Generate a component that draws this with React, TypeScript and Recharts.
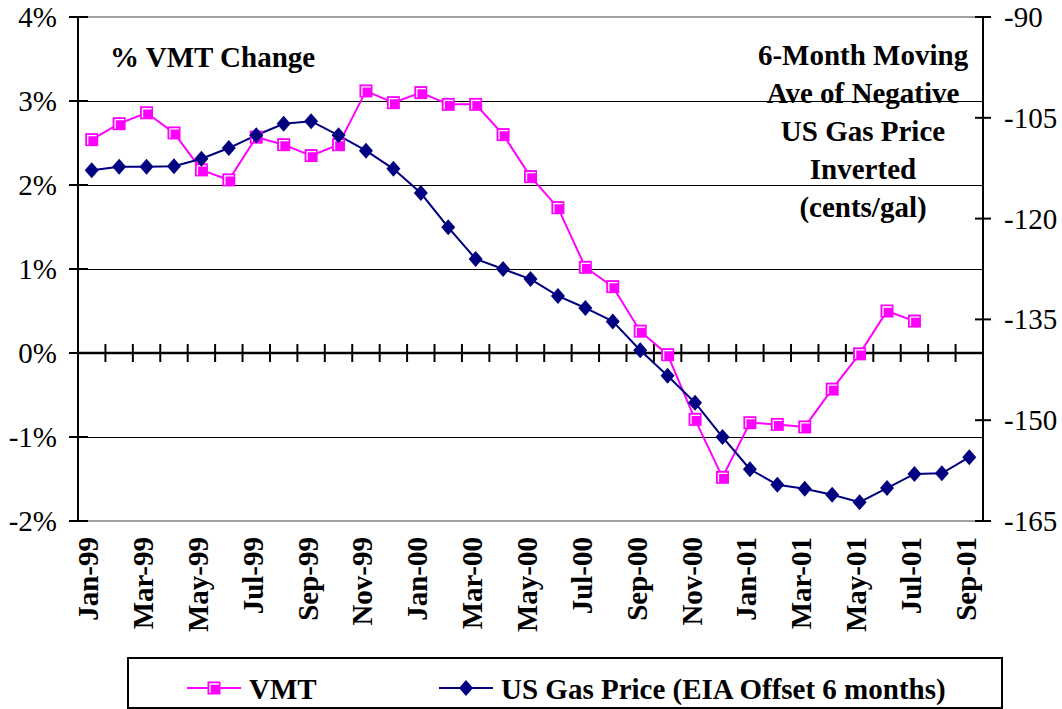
import { ComposedChart, Line, XAxis, YAxis, ReferenceLine, Legend } from "recharts";

const months = [
  "Jan-99", "Feb-99", "Mar-99", "Apr-99", "May-99", "Jun-99", "Jul-99", "Aug-99", "Sep-99", "Oct-99", "Nov-99", "Dec-99",
  "Jan-00", "Feb-00", "Mar-00", "Apr-00", "May-00", "Jun-00", "Jul-00", "Aug-00", "Sep-00", "Oct-00", "Nov-00", "Dec-00",
  "Jan-01", "Feb-01", "Mar-01", "Apr-01", "May-01", "Jun-01", "Jul-01", "Aug-01", "Sep-01",
];

// % VMT change (left axis)
const vmtChange: (number | null)[] = [
  2.54, 2.73, 2.86, 2.62, 2.18, 2.06, 2.57, 2.48, 2.35, 2.48, 3.12, 2.98,
  3.10, 2.96, 2.96, 2.60, 2.10, 1.73, 1.02, 0.79, 0.26, -0.02, -0.79, -1.48,
  -0.83, -0.85, -0.88, -0.43, -0.01, 0.50, 0.38, null, null,
];

// 6-month moving ave of negative gas price, cents/gal (right axis)
const gasPrice = [
  -112.8, -112.3, -112.3, -112.2, -111.1, -109.5, -107.6, -105.9, -105.5, -107.6, -109.9, -112.6,
  -116.2, -121.3, -126.0, -127.5, -129.0, -131.5, -133.3, -135.3, -139.6, -143.4, -147.4, -152.5,
  -157.3, -159.6, -160.2, -161.1, -162.2, -160.1, -158.0, -157.9, -155.5,
];

const leftTicks = [4, 3, 2, 1, 0, -1, -2];
const rightTicks = [-90, -105, -120, -135, -150, -165];
const gridValues = [3, 2, 1, -1];
const rightTitle = ["6-Month Moving", "Ave of Negative", "US Gas Price", "Inverted", "(cents/gal)"];

const PINK = "#FF00FF";
const NAVY = "#000080";
const FONT = '"Liberation Serif", "Times New Roman", serif';

const rows = months.map((month, i) => ({ month, vmt: vmtChange[i], gas: gasPrice[i] }));

const Square = ({ cx, cy }: { cx: number; cy: number }) => (
  <g>
    <rect x={cx - 6.5} y={cy - 6.5} width={13} height={13} fill={PINK} />
    <polyline points={`${cx - 4},${cy + 5} ${cx - 4},${cy - 4} ${cx + 5},${cy - 4}`} fill="none" stroke="#fff" strokeWidth={1.3} />
  </g>
);

const Diamond = ({ cx, cy }: { cx: number; cy: number }) => (
  <polygon points={`${cx},${cy - 8} ${cx + 7},${cy} ${cx},${cy + 8} ${cx - 7},${cy}`} fill={NAVY} />
);

const vmtDot = (p: any) => {
  if (p.cy == null || p.value == null) return <g key={`v${p.index}`} />;
  return <g key={`v${p.index}`}><Square cx={p.cx} cy={p.cy} /></g>;
};

const gasDot = (p: any) => {
  if (p.cy == null) return <g key={`g${p.index}`} />;
  return <g key={`g${p.index}`}><Diamond cx={p.cx} cy={p.cy} /></g>;
};

// zero line with crossing ticks at every month boundary
const ZeroAxis = (props: any) => {
  const { x1, x2, y1 } = props;
  const step = (x2 - x1) / months.length;
  return (
    <g>
      <line x1={x1} x2={x2} y1={y1} y2={y1} stroke="#000" strokeWidth={2.5} />
      {months.slice(1).map((_, i) => (
        <line key={i} x1={x1 + step * (i + 1)} x2={x1 + step * (i + 1)} y1={y1 - 9} y2={y1 + 9} stroke="#000" strokeWidth={2} />
      ))}
    </g>
  );
};

const LeftTick = ({ x, y, payload }: any) => (
  <g>
    <line x1={x + 12} x2={x + 31} y1={y} y2={y} stroke="#000" strokeWidth={2} />
    <text x={x} y={y} dy={10} textAnchor="end" fontSize={29} fontFamily={FONT} fill="#000">
      {payload.value}%
    </text>
  </g>
);

const RightTick = ({ x, y, payload }: any) => (
  <g>
    <line x1={x - 29} x2={x - 13} y1={y} y2={y} stroke="#000" strokeWidth={2} />
    <text x={x} y={y} dy={10} textAnchor="start" fontSize={29} fontFamily={FONT} fill="#000">
      {payload.value}
    </text>
  </g>
);

const MonthTick = ({ x, y, payload }: any) => (
  <text
    transform={`translate(${x + 6.5},${y + 16}) rotate(-90)`}
    textAnchor="end"
    fontSize={29}
    fontWeight="bold"
    fontFamily={FONT}
    fill="#000"
  >
    {payload.value}
  </text>
);

const legendItems = [
  { label: "VMT", color: PINK, kind: "square", x: 60 },
  { label: "US Gas Price (EIA Offset 6 months)", color: NAVY, kind: "diamond", x: 312 },
];

const LegendBox = () => (
  <svg width={876} height={52} style={{ display: "block" }}>
    <rect x={1} y={1} width={874} height={50} fill="#fff" stroke="#000" strokeWidth={2} />
    {legendItems.map((it) => (
      <g key={it.label}>
        <line x1={it.x} x2={it.x + 54} y1={31} y2={31} stroke={it.color} strokeWidth={2} />
        {it.kind === "square" ? <Square cx={it.x + 27} cy={31} /> : <Diamond cx={it.x + 27} cy={31} />}
        <text x={it.x + 62} y={42} fontSize={29} fontWeight="bold" fontFamily={FONT} fill="#000">
          {it.label}
        </text>
      </g>
    ))}
  </svg>
);

export default function App() {
  return (
    <div style={{ position: "absolute", left: 0, top: 0, width: 1062, height: 709, background: "#fff", fontFamily: FONT }}>
      <ComposedChart width={1062} height={709} data={rows} margin={{ top: 17, right: 0, left: 0, bottom: 68 }}>
        <XAxis
          dataKey="month"
          scale="band"
          height={120}
          axisLine={false}
          tickLine={false}
          tickSize={0}
          tickMargin={0}
          interval={1}
          tick={<MonthTick />}
        />
        <YAxis
          yAxisId="left"
          width={78}
          domain={[-2, 4]}
          ticks={leftTicks}
          interval={0}
          axisLine={{ stroke: "#000", strokeWidth: 2 }}
          tickLine={false}
          tickSize={0}
          tickMargin={21}
          tick={<LeftTick />}
        />
        <YAxis
          yAxisId="right"
          orientation="right"
          width={79}
          domain={[-165, -90]}
          ticks={rightTicks}
          interval={0}
          axisLine={{ stroke: "#000", strokeWidth: 2 }}
          tickLine={false}
          tickSize={0}
          tickMargin={21}
          tick={<RightTick />}
        />
        <ReferenceLine yAxisId="left" y={4} stroke="#808080" strokeWidth={1.5} />
        <ReferenceLine yAxisId="left" y={-2} stroke="#808080" strokeWidth={1.5} />
        {gridValues.map((v) => (
          <ReferenceLine key={v} yAxisId="left" y={v} stroke="#000" strokeWidth={1} shapeRendering="crispEdges" />
        ))}
        <ReferenceLine yAxisId="left" y={0} shape={ZeroAxis} />
        <Legend
          verticalAlign="middle"
          layout="horizontal"
          content={<LegendBox />}
          wrapperStyle={{ left: 127, top: 657, width: 876, height: 52 }}
        />
        <Line
          yAxisId="left"
          dataKey="vmt"
          stroke={PINK}
          strokeWidth={2}
          dot={vmtDot}
          activeDot={false}
          isAnimationActive={false}
        />
        <Line
          yAxisId="right"
          dataKey="gas"
          stroke={NAVY}
          strokeWidth={2}
          dot={gasDot}
          activeDot={false}
          isAnimationActive={false}
        />
      </ComposedChart>
      <svg width={1062} height={709} style={{ position: "absolute", left: 0, top: 0, pointerEvents: "none" }}>
        <text x={110} y={67} fontSize={29} fontWeight="bold" fontFamily={FONT} fill="#000">
          % VMT Change
        </text>
        {rightTitle.map((line, i) => (
          <text key={line} x={863} y={65 + 38 * i} textAnchor="middle" fontSize={29} fontWeight="bold" fontFamily={FONT} fill="#000">
            {line}
          </text>
        ))}
      </svg>
    </div>
  );
}
